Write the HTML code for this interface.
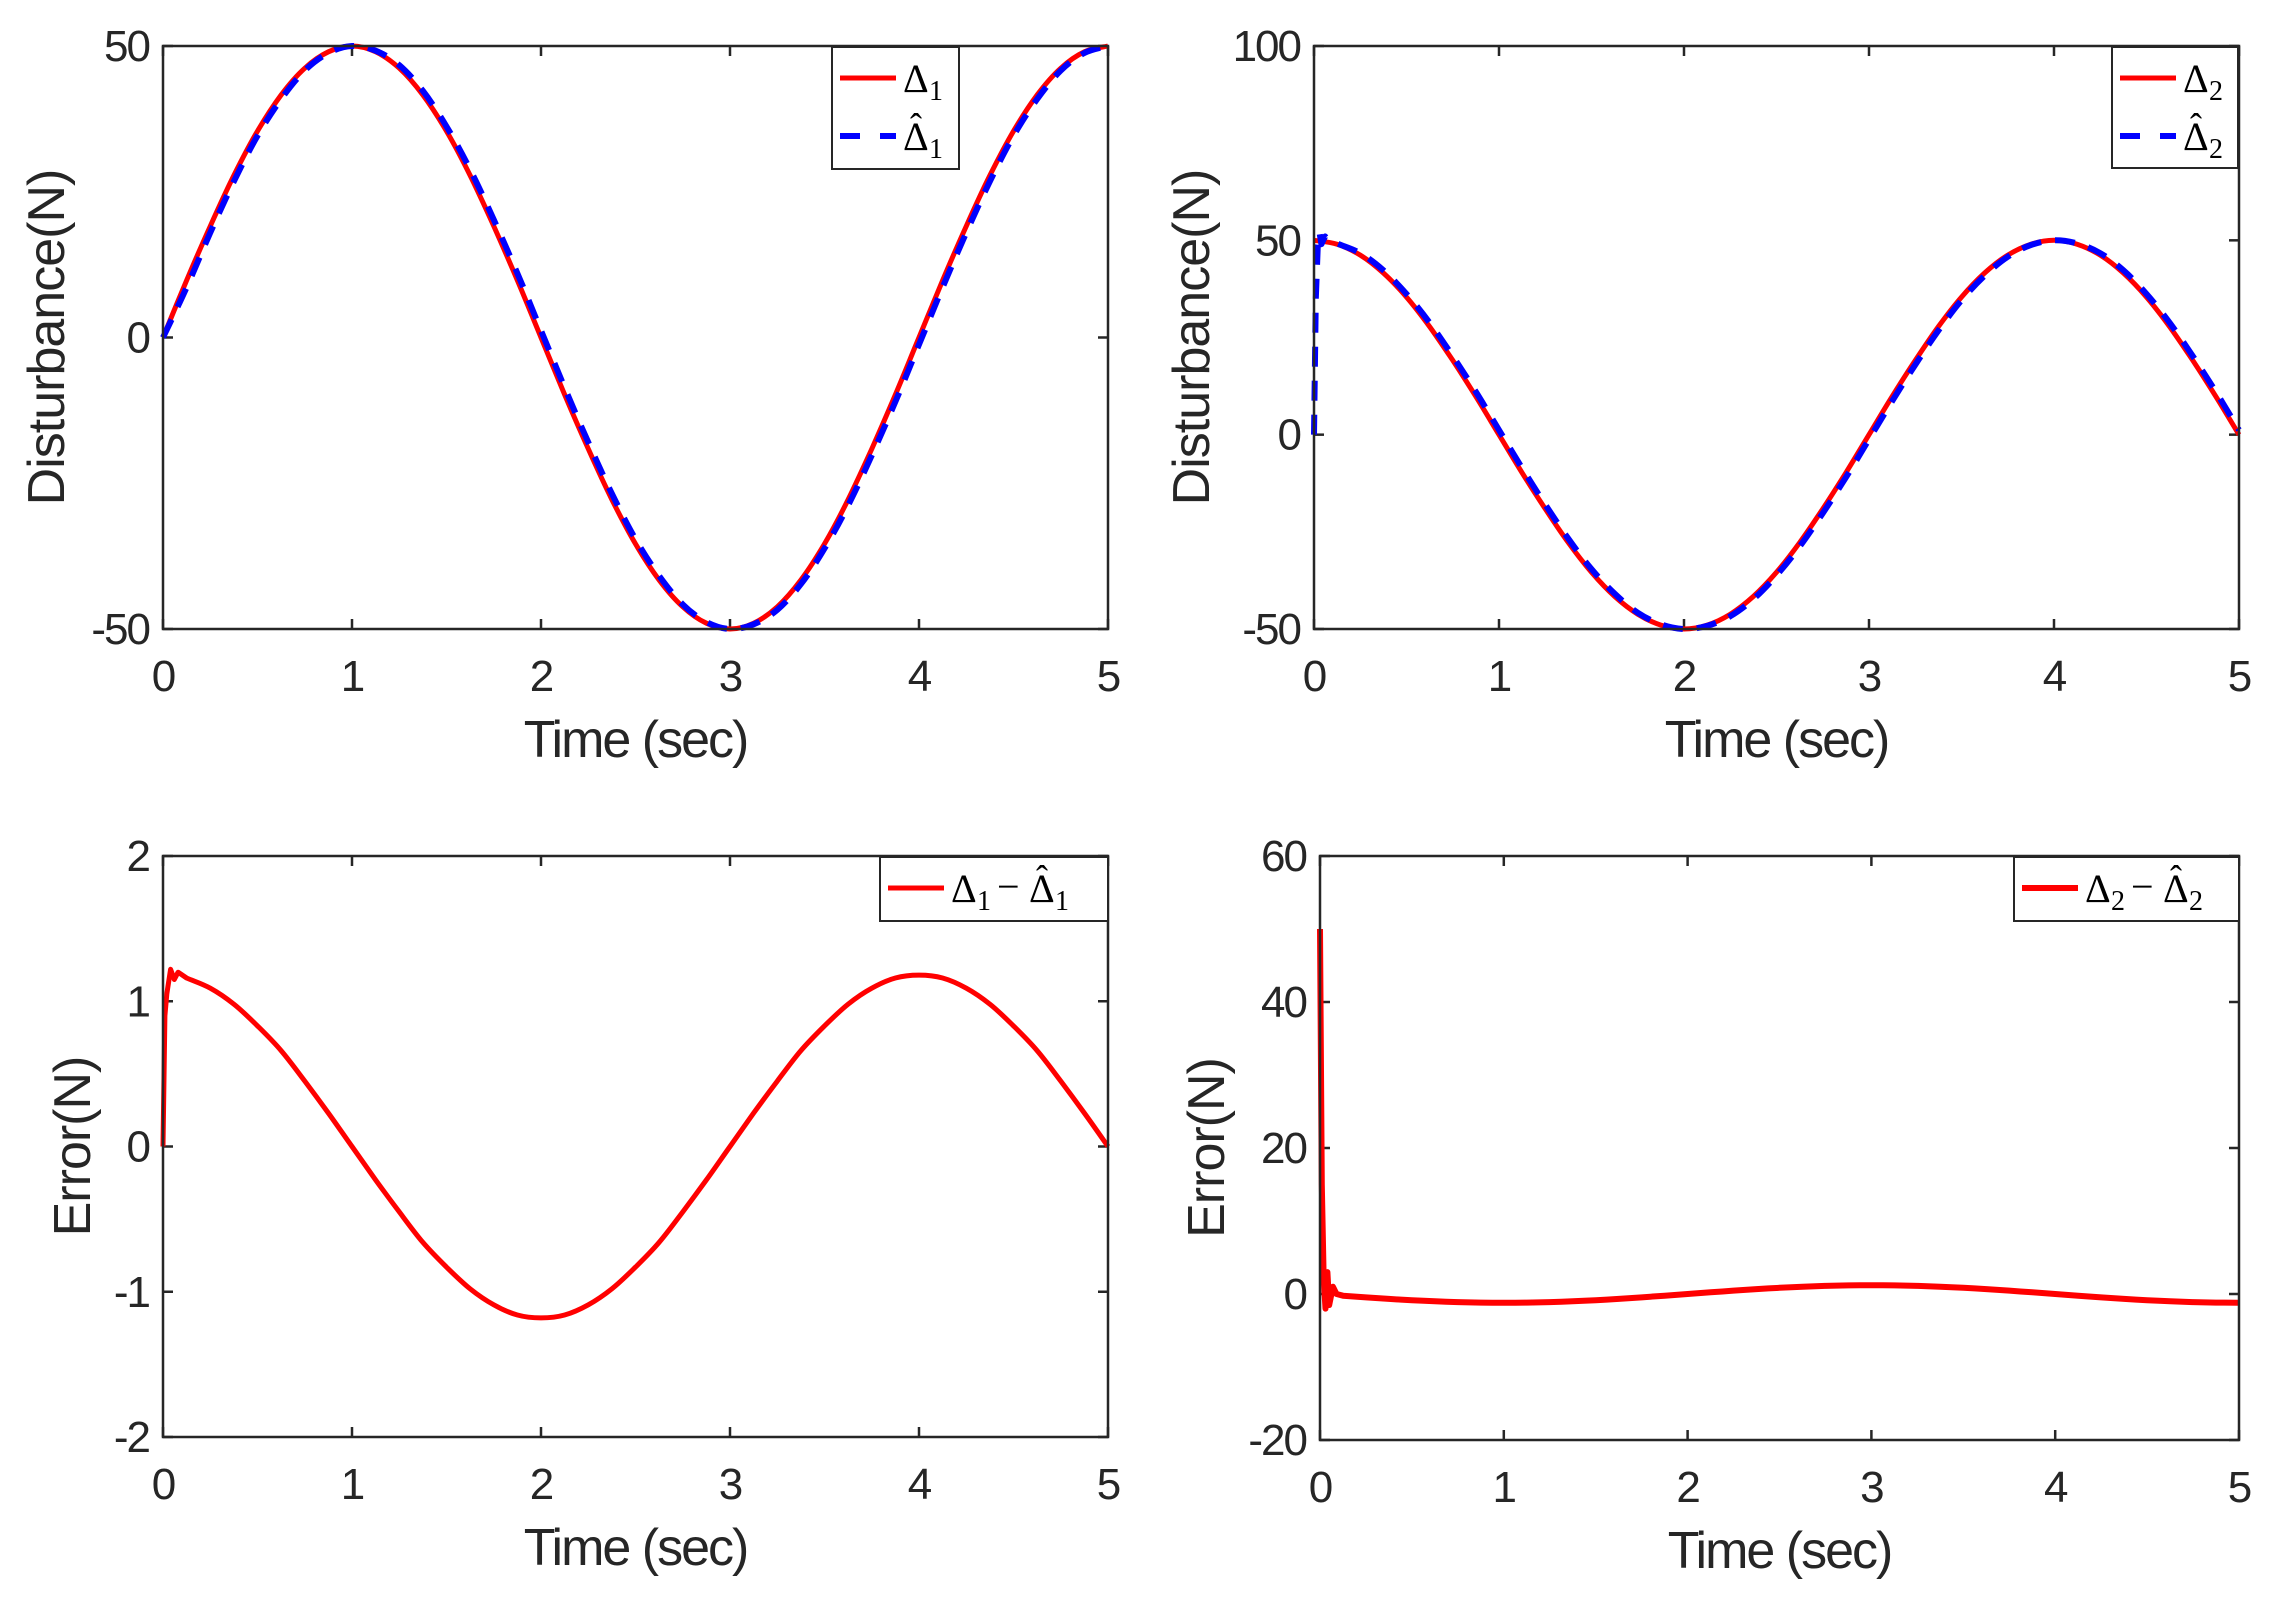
<!DOCTYPE html>
<html><head><meta charset="utf-8"><style>
html,body{margin:0;padding:0;background:#fff;}
svg{display:block;}
text{font-family:"Liberation Sans",sans-serif;fill:#262626;}
.lg{font-family:"Liberation Serif",serif;fill:#000;}
</style></head><body>
<svg id="fig" width="2271" height="1599" viewBox="0 0 2271 1599" xmlns="http://www.w3.org/2000/svg"></svg>
<script>
// ---- data ----
const tGrid = [0,0.125,0.25,0.375,0.5,0.625,0.75,0.875,1,1.125,1.25,1.375,1.5,1.625,1.75,1.875,2,2.125,2.25,2.375,2.5,2.625,2.75,2.875,3,3.125,3.25,3.375,3.5,3.625,3.75,3.875,4,4.125,4.25,4.375,4.5,4.625,4.75,4.875,5];
const delta1 = [0,9.8,19.1,27.8,35.4,41.6,46.2,49.0,50,49.0,46.2,41.6,35.4,27.8,19.1,9.8,0,-9.8,-19.1,-27.8,-35.4,-41.6,-46.2,-49.0,-50,-49.0,-46.2,-41.6,-35.4,-27.8,-19.1,-9.8,0,9.8,19.1,27.8,35.4,41.6,46.2,49.0,50];
const est1 = [0,8.6,18.0,26.8,34.6,40.9,45.8,48.8,50,49.2,46.7,42.3,36.2,28.8,20.2,11.0,1.2,-8.6,-18.0,-26.8,-34.6,-40.9,-45.8,-48.8,-50,-49.2,-46.7,-42.3,-36.2,-28.8,-20.2,-11.0,-1.2,8.6,18.0,26.8,34.6,40.9,45.8,48.8,50];
const delta2 = [50,49.0,46.2,41.6,35.4,27.8,19.1,9.8,0,-9.8,-19.1,-27.8,-35.4,-41.6,-46.2,-49.0,-50,-49.0,-46.2,-41.6,-35.4,-27.8,-19.1,-9.8,0,9.8,19.1,27.8,35.4,41.6,46.2,49.0,50,49.0,46.2,41.6,35.4,27.8,19.1,9.8,0];
const est2Head_t = [0,0.01,0.02,0.03,0.04,0.06,0.08];
const est2Head_v = [0,35,48,52,49,51,50];
const est2 = [49.2,49.2,46.7,42.3,36.2,28.8,20.2,11.0,1.2,-8.6,-18.0,-26.8,-34.6,-40.9,-45.8,-48.8,-50,-49.2,-46.7,-42.3,-36.2,-28.8,-20.2,-11.0,-1.2,8.6,18.0,26.8,34.6,40.9,45.8,48.8,50,49.2,46.7,42.3,36.2,28.8,20.2,11.0,1.2];
const err1Head_t = [0,0.01,0.02,0.04,0.06,0.08];
const err1Head_v = [0,0.9,1.05,1.22,1.15,1.2];
const err1 = [1.18,1.16,1.09,0.98,0.83,0.66,0.45,0.23,0,-0.23,-0.45,-0.66,-0.83,-0.98,-1.09,-1.16,-1.18,-1.16,-1.09,-0.98,-0.83,-0.66,-0.45,-0.23,0,0.23,0.45,0.66,0.83,0.98,1.09,1.16,1.18,1.16,1.09,0.98,0.83,0.66,0.45,0.23,0];
const err2Head_t = [0,0.01,0.02,0.03,0.04,0.05,0.07,0.09];
const err2Head_v = [50,15,2,-2,3,-1.5,1,0];
const err2 = [0,-0.23,-0.46,-0.67,-0.85,-1.0,-1.11,-1.18,-1.2,-1.18,-1.11,-1.0,-0.85,-0.67,-0.46,-0.23,0,0.23,0.46,0.67,0.85,1.0,1.11,1.18,1.2,1.18,1.11,1.0,0.85,0.67,0.46,0.23,0,-0.23,-0.46,-0.67,-0.85,-1.0,-1.11,-1.18,-1.2];
const xTicks = [0,1,2,3,4,5];
const yTicks1 = [-50,0,50];
const yTicks2 = [-50,0,50,100];
const yTicks3 = [-2,-1,0,1,2];
const yTicks4 = [-20,0,20,40,60];

const NS='http://www.w3.org/2000/svg';
const fig=document.getElementById('fig');
function mk(tag,attrs,parent){const e=document.createElementNS(NS,tag);for(const k in attrs)e.setAttribute(k,attrs[k]);(parent||fig).appendChild(e);return e;}

function withHead(ht,hv,vals){
  const t=[],v=[];
  for(let i=0;i<ht.length;i++){t.push(ht[i]);v.push(hv[i]);}
  for(let i=0;i<tGrid.length;i++){if(tGrid[i]>ht[ht.length-1]){t.push(tGrid[i]);v.push(vals[i]);}}
  return [t,v];
}

function smoothPath(P){
  let d='M'+P[0][0].toFixed(1)+','+P[0][1].toFixed(1);
  for(let i=0;i<P.length-1;i++){
    const p0=P[Math.max(i-1,0)],p1=P[i],p2=P[i+1],p3=P[Math.min(i+2,P.length-1)];
    const dx=p2[0]-p1[0];
    if(dx<15){d+='L'+p2[0].toFixed(1)+','+p2[1].toFixed(1);continue;}
    const c1=[p1[0]+(p2[0]-p0[0])/6,p1[1]+(p2[1]-p0[1])/6];
    const c2=[p2[0]-(p3[0]-p1[0])/6,p2[1]-(p3[1]-p1[1])/6];
    if(i>0&&p1[0]-p0[0]<15){c1[0]=p1[0]+dx/3;c1[1]=p1[1]+(p2[1]-p1[1])/3;}
    d+='C'+c1[0].toFixed(1)+','+c1[1].toFixed(1)+' '+c2[0].toFixed(1)+','+c2[1].toFixed(1)+' '+p2[0].toFixed(1)+','+p2[1].toFixed(1);
  }
  return d;
}

function txt(parent,x,y,size,s){const t=mk('text',{x:x,y:y,'font-size':size,'class':'lg'},parent);t.textContent=s;return t;}
function addDelta(g,x,y,n,hat){
  txt(g,x,y,40,'\u0394');
  if(hat){const h=txt(g,x+13,y-12,36,'\u02C6');h.setAttribute('text-anchor','middle');}
  txt(g,x+26,y+8,28,String(n));
  return x+42;
}

function panel(cfg){
  const g=mk('g',{});
  
  
  const {x0,x1,y0,y1,ymin,ymax}=cfg;
  const sx=t=>x0+(t-0)/(5-0)*(x1-x0);
  const sy=v=>y1-(v-ymin)/(ymax-ymin)*(y1-y0);
  xTicks.forEach(t=>{
    const X=sx(t);
    const a=mk('line',{x1:X,y1:y1,x2:X,y2:y1-10,stroke:'#262626','stroke-width':2.5},g);
    
    
    mk('line',{x1:X,y1:y0,x2:X,y2:y0+10,stroke:'#262626','stroke-width':2.5},g);
    const lb=mk('text',{x:X,y:y1+62,'font-size':44,'letter-spacing':-2,'text-anchor':'middle'},g);
    lb.textContent=t;
    
    
  });
  cfg.yt.forEach(v=>{
    const Y=sy(v);
    const a=mk('line',{x1:x0,y1:Y,x2:x0+10,y2:Y,stroke:'#262626','stroke-width':2.5},g);
    
    
    mk('line',{x1:x1,y1:Y,x2:x1-10,y2:Y,stroke:'#262626','stroke-width':2.5},g);
    const lb=mk('text',{x:x0-14,y:Y+15,'font-size':44,'letter-spacing':-2,'text-anchor':'end'},g);
    lb.textContent=v;
    
    
  });
  cfg.series.forEach(s=>{
    const P=s.t.map((t,i)=>[sx(t),sy(s.v[i])]);
    const p=mk('path',{d:smoothPath(P),fill:'none',stroke:s.color,'stroke-width':s.w,'stroke-linejoin':'round'},g);
    if(s.dash)p.setAttribute('stroke-dasharray',s.dash);
    
    
  });
  const box=mk('rect',{x:x0,y:y0,width:x1-x0,height:y1-y0,fill:'none',stroke:'#262626','stroke-width':2.5},g);
  
  
  const xl=mk('text',{x:(x0+x1)/2,y:y1+128,'font-size':52,'letter-spacing':-2,'text-anchor':'middle'},g);
  xl.textContent='Time (sec)';
  
  
  const yl=mk('text',{x:0,y:0,'font-size':52,'letter-spacing':-1,'text-anchor':'middle',transform:'translate('+cfg.ylx+','+(y0+y1)/2+') rotate(-90)'},g);
  yl.textContent=cfg.ylabel;
  
  
  const L=cfg.legend;
  const lg=mk('g',{},g);
  
  
  mk('rect',{x:L.x,y:L.y,width:L.w,height:L.h,fill:'#fff',stroke:'#262626','stroke-width':2},lg);
  L.items.forEach((it,i)=>{
    const yy=L.y+31+i*58;
    const ln=mk('line',{x1:L.x+8,y1:yy,x2:L.x+64,y2:yy,stroke:it.color,'stroke-width':it.w},lg);
    if(it.dash)ln.setAttribute('stroke-dasharray',it.dash);
    
    
    const eg=mk('g',{},lg);
    
    
    let x=L.x+71;
    it.parts.forEach(pt=>{
      if(pt==='-'){txt(eg,x+4,yy+12,40,'\u2212');x+=36;}
      else x=addDelta(eg,x,yy+14,pt.n,pt.hat);
    });
  });
}

panel({name:'disturbance-1-panel',x0:163,x1:1108,y0:46,y1:629,ymin:-50,ymax:50,yt:yTicks1,ylabel:'Disturbance(N)',ylx:64,
  series:[{name:'delta1-line',t:tGrid,v:delta1,color:'#ff0000',w:5},
          {name:'delta1-estimate-line',t:tGrid,v:est1,color:'#0000ff',w:6,dash:'20 14'}],
  legend:{x:832,y:47,w:127,h:122,items:[{parts:[{n:1}],color:'#ff0000',w:5},{parts:[{n:1,hat:1}],color:'#0000ff',w:6,dash:'20 20'}]}});

const s2=withHead(est2Head_t,est2Head_v,est2);
panel({name:'disturbance-2-panel',x0:1314,x1:2239,y0:46,y1:629,ymin:-50,ymax:100,yt:yTicks2,ylabel:'Disturbance(N)',ylx:1209,
  series:[{name:'delta2-line',t:tGrid,v:delta2,color:'#ff0000',w:5},
          {name:'delta2-estimate-line',t:s2[0],v:s2[1],color:'#0000ff',w:6,dash:'20 14'}],
  legend:{x:2112,y:47,w:126,h:121,items:[{parts:[{n:2}],color:'#ff0000',w:5},{parts:[{n:2,hat:1}],color:'#0000ff',w:6,dash:'20 20'}]}});

const s3=withHead(err1Head_t,err1Head_v,err1);
panel({name:'error-1-panel',x0:163,x1:1108,y0:856,y1:1437,ymin:-2,ymax:2,yt:yTicks3,ylabel:'Error(N)',ylx:90,
  series:[{name:'error1-line',t:s3[0],v:s3[1],color:'#ff0000',w:5}],
  legend:{x:880,y:857,w:228,h:64,items:[{parts:[{n:1},'-',{n:1,hat:1}],color:'#ff0000',w:5}]}});

const s4=withHead(err2Head_t,err2Head_v,err2);
panel({name:'error-2-panel',x0:1320,x1:2239,y0:856,y1:1440,ymin:-20,ymax:60,yt:yTicks4,ylabel:'Error(N)',ylx:1224,
  series:[{name:'error2-line',t:s4[0],v:s4[1],color:'#ff0000',w:6}],
  legend:{x:2014,y:857,w:225,h:64,items:[{parts:[{n:2},'-',{n:2,hat:1}],color:'#ff0000',w:6}]}});
</script>
</body></html>
